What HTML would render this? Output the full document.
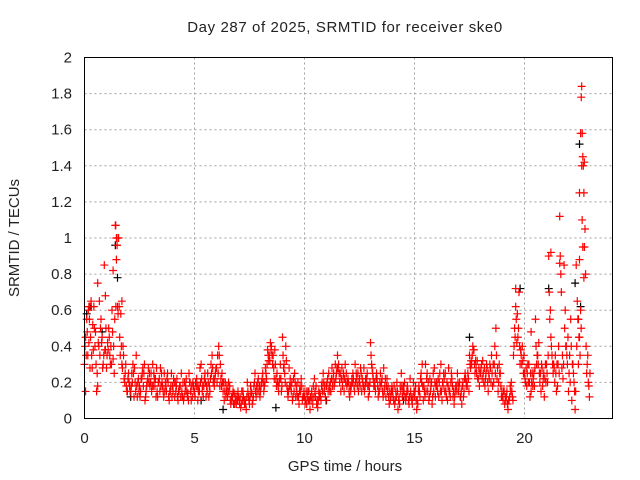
<!DOCTYPE html>
<html><head><meta charset="utf-8"><style>
body{margin:0;background:#fff;}
svg{display:block;font-family:"Liberation Sans",sans-serif;}
</style></head><body>
<svg id="c" width="640" height="480" xmlns="http://www.w3.org/2000/svg">
<rect width="640" height="480" fill="#fff"/>
<text x="345" y="32" font-size="15" letter-spacing="0.6" text-anchor="middle" fill="#222">Day 287 of 2025, SRMTID for receiver ske0</text>
<text x="19" y="238" font-size="15" text-anchor="middle" fill="#222" transform="rotate(-90 19 238)">SRMTID / TECUs</text>
<text x="345" y="471" font-size="15" text-anchor="middle" fill="#222">GPS time / hours</text>
<g id="grid"></g>
<g id="ticks"></g>
<g id="marks"></g>
<rect x="84.5" y="57.5" width="528" height="361" fill="none" stroke="#000"/>
</svg>
<script>
const xTicks=[0,5,10,15,20];
const yTicks=[0,0.2,0.4,0.6,0.8,1,1.2,1.4,1.6,1.8,2];
const yTickLabels=["0","0.2","0.4","0.6","0.8","1","1.2","1.4","1.6","1.8","2"];
const redAStart=0, redBStart=0.05, redCStart=0.025, redDStart=0.075, step=0.1;
const redA=[.30,.55,.42,.65,.38,.48,.75,.35,.45,.85,
.28,.50,.40,.33,1.07,.62,.45,.30,.22,.18,
.25,.15,.30,.20,.12,.18,.22,.25,.15,.28,
.20,.30,.18,.15,.22,.25,.12,.18,.20,.15,
.18,.12,.22,.15,.25,.10,.18,.14,.20,.12,
.15,.22,.18,.30,.12,.20,.25,.15,.35,.18,
.28,.40,.22,.15,.20,.12,.18,.10,.14,.08,
.12,.06,.15,.10,.20,.08,.14,.18,.12,.22,
.15,.25,.20,.30,.35,.40,.28,.22,.18,.30,
.45,.25,.18,.28,.15,.22,.12,.20,.18,.10,
.12,.08,.15,.10,.18,.12,.06,.14,.20,.15,
.18,.25,.15,.22,.30,.35,.20,.28,.15,.25,
.20,.15,.25,.30,.18,.22,.15,.28,.20,.12,
.42,.25,.18,.22,.15,.20,.28,.12,.18,.10,
.15,.08,.20,.12,.25,.18,.10,.15,.22,.08,
.12,.05,.18,.25,.10,.30,.15,.22,.08,.28,
.20,.12,.30,.18,.25,.10,.15,.22,.08,.18,
.15,.12,.20,.25,.18,.35,.30,.38,.28,.22,
.25,.32,.18,.28,.22,.35,.20,.50,.15,.25,
.12,.08,.15,.10,.20,.35,.62,.45,.30,.40,
.25,.18,.30,.15,.22,.55,.35,.20,.28,.12,
.30,.90,.45,.25,.35,.18,1.12,.28,.85,.40,
.15,.55,.30,.05,.65,.45,1.84,1.25,.40,.20];
const redB=[.45,.35,.62,.28,.50,.15,.40,.55,.30,.38,
.42,.35,.60,.25,.88,1.00,.58,.40,.25,.15,
.18,.25,.12,.35,.22,.15,.28,.10,.20,.25,
.15,.25,.12,.20,.28,.18,.15,.22,.10,.25,
.22,.15,.10,.18,.12,.20,.15,.25,.10,.18,
.20,.10,.28,.15,.22,.18,.12,.30,.20,.25,
.35,.18,.25,.10,.15,.20,.08,.15,.12,.10,
.08,.15,.10,.05,.12,.18,.10,.25,.15,.18,
.20,.15,.25,.35,.42,.30,.38,.25,.20,.15,
.28,.40,.12,.22,.10,.25,.15,.08,.22,.12,
.10,.15,.05,.12,.22,.08,.15,.10,.25,.12,
.22,.15,.28,.18,.25,.30,.15,.22,.30,.20,
.12,.22,.18,.25,.15,.28,.20,.18,.25,.15,
.30,.18,.22,.12,.25,.15,.18,.22,.08,.15,
.10,.15,.05,.18,.12,.20,.15,.08,.12,.20,
.18,.08,.12,.30,.15,.22,.10,.18,.25,.12,
.15,.25,.10,.22,.12,.28,.20,.12,.15,.25,
.20,.08,.15,.18,.22,.28,.40,.25,.32,.18,
.30,.20,.25,.15,.28,.18,.40,.22,.30,.12,
.15,.10,.05,.18,.12,.50,.42,.70,.35,.25,
.20,.30,.12,.25,.18,.30,.42,.15,.22,.30,
.20,.55,.35,.28,.15,.40,.80,.22,.60,.30,
.35,.10,.20,.85,.30,.60,1.45,1.05,.30,.12];
const redC=[.40,.48,.55,.35,.62,.30,.42,.50,.28,.38,
.35,.45,.30,.40,.62,.58,.35,.28,.20,.15,
.20,.18,.25,.15,.20,.12,.25,.30,.18,.20,
.25,.18,.22,.12,.15,.20,.25,.15,.12,.18,
.15,.20,.12,.18,.15,.12,.22,.10,.15,.20,
.12,.18,.15,.22,.18,.12,.20,.22,.28,.22,
.20,.35,.18,.20,.12,.15,.10,.12,.08,.12,
.10,.08,.12,.08,.15,.12,.08,.20,.18,.15,
.18,.20,.28,.38,.32,.35,.22,.18,.15,.22,
.35,.20,.15,.18,.20,.15,.18,.12,.15,.12,
.08,.12,.10,.15,.12,.18,.10,.12,.15,.18,
.20,.18,.22,.25,.22,.28,.25,.18,.22,.18,
.15,.18,.22,.20,.25,.18,.22,.15,.22,.18,
.35,.22,.15,.18,.20,.22,.15,.18,.12,.12,
.12,.10,.15,.08,.18,.15,.12,.10,.15,.12,
.15,.10,.15,.20,.18,.15,.20,.15,.12,.20,
.18,.20,.15,.25,.15,.18,.12,.18,.12,.15,
.18,.15,.12,.22,.25,.30,.35,.30,.25,.28,
.28,.25,.22,.20,.30,.25,.30,.35,.20,.18,
.10,.12,.08,.12,.15,.40,.55,.50,.38,.32,
.22,.25,.20,.20,.25,.40,.30,.25,.18,.22,
.25,.70,.40,.30,.25,.30,.90,.35,.50,.35,
.25,.40,.25,.15,.55,.35,1.58,.95,.25,.18];
const redD=[.35,.60,.45,.52,.40,.25,.65,.42,.35,.50,
.38,.30,.48,.55,1.00,.62,.40,.35,.30,.22,
.15,.20,.28,.18,.15,.22,.18,.12,.22,.18,
.18,.22,.28,.20,.18,.15,.20,.25,.15,.12,
.20,.18,.15,.12,.20,.15,.12,.20,.18,.15,
.18,.15,.20,.18,.25,.15,.18,.25,.22,.28,
.25,.30,.20,.15,.18,.15,.12,.08,.10,.15,
.12,.10,.08,.12,.10,.15,.12,.15,.20,.12,
.22,.18,.22,.32,.38,.35,.30,.20,.22,.18,
.30,.32,.15,.18,.12,.20,.12,.15,.18,.15,
.15,.10,.12,.08,.15,.10,.12,.18,.20,.10,
.15,.20,.18,.20,.28,.25,.22,.25,.20,.22,
.18,.20,.15,.22,.20,.25,.18,.22,.18,.20,
.28,.20,.25,.15,.18,.12,.22,.15,.15,.18,
.18,.12,.10,.15,.15,.12,.18,.12,.10,.15,
.10,.15,.22,.18,.12,.25,.12,.20,.15,.18,
.22,.15,.20,.15,.20,.15,.25,.15,.18,.20,
.12,.18,.22,.20,.15,.32,.38,.32,.22,.25,
.22,.28,.30,.25,.20,.30,.25,.28,.25,.15,
.15,.12,.10,.15,.10,.45,.58,.40,.30,.35,
.28,.20,.25,.18,.28,.35,.25,.30,.25,.20,
.35,.60,.30,.20,.30,.25,.70,.30,.40,.45,
.20,.30,.15,.40,.45,.50,1.40,.80,.35,.25];
const redExtraT=[0.05,0.2,0.25,0.6,0.95,1.3,1.42,1.45,1.48,1.7,22.5,22.55,22.58,22.6,22.62,22.65,22.7,22.72,22.5,22.45,21.6,21.2,19.6,20.3];
const redExtraV=[0.15,0.62,0.28,0.18,0.68,0.82,1.07,1.00,0.96,0.65,1.25,1.58,1.78,1.40,1.10,0.95,0.78,1.42,0.88,0.55,0.86,0.92,0.72,0.48];
const blackT=[0.1,0.3,0.8,1.4,1.5,2.1,3.0,5.3,6.3,8.7,11.0,14.5,17.5,19.8,21.1,22.3,22.5,22.55];
const blackV=[0.58,0.62,0.48,0.96,0.78,0.12,0.20,0.10,0.05,0.06,0.10,0.10,0.45,0.72,0.72,0.75,1.52,0.62];

const X0=84.5,X1=612.5,Y0=418.5,Y1=57.5;
const xs=t=>X0+(t/24)*(X1-X0);
const ys=v=>Y0-(v/2)*(Y0-Y1);
const NS="http://www.w3.org/2000/svg";
const grid=document.getElementById('grid'),ticks=document.getElementById('ticks'),marks=document.getElementById('marks');
function mk(tag,attrs,parent){const e=document.createElementNS(NS,tag);for(const k in attrs)e.setAttribute(k,attrs[k]);parent.appendChild(e);return e;}
xTicks.forEach(t=>{const x=xs(t);
 if(t>0){const g=mk('line',{x1:x,x2:x,y1:Y1,y2:Y0,stroke:'#a0a0a0','stroke-dasharray':'2,3'},grid);
 
 }
 const l=mk('text',{x:x,y:443,'font-size':15,'text-anchor':'middle',fill:'#222'},ticks);l.textContent=t;
 
 
});
yTicks.forEach((v,i)=>{const y=ys(v);
 if(v>0&&v<2){const g=mk('line',{x1:X0,x2:X1,y1:y,y2:y,stroke:'#a0a0a0','stroke-dasharray':'2,3'},grid);
 
 }
 const l=mk('text',{x:72,y:y+5,'font-size':15,'text-anchor':'end',fill:'#222'},ticks);l.textContent=yTickLabels[i];
 
 
});
function plus(t,v,color,name){const x=xs(t),y=ys(v);
 const p=mk('path',{d:`M${x-4} ${y}H${x+4}M${x} ${y-4}V${y+4}`,stroke:color,'stroke-width':1.2,fill:'none'},marks);
 
 
}
blackV.forEach((v,i)=>plus(blackT[i],v,'#000','black-point'));
redA.forEach((v,i)=>plus(redAStart+i*step,v,'#f00','red-point'));
redB.forEach((v,i)=>plus(redBStart+i*step,v,'#f00','red-point'));
redC.forEach((v,i)=>plus(redCStart+i*step,v,'#f00','red-point'));
redD.forEach((v,i)=>plus(redDStart+i*step,v,'#f00','red-point'));
redExtraV.forEach((v,i)=>plus(redExtraT[i],v,'#f00','red-point'));
</script>
</body></html>
